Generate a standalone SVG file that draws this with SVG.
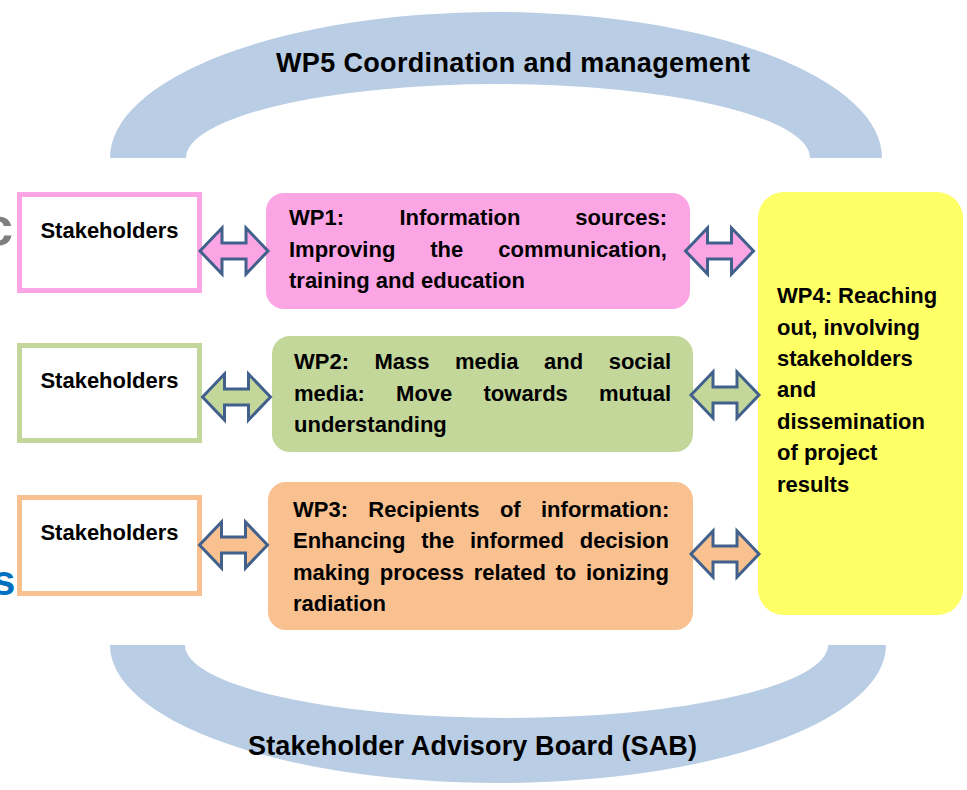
<svg xmlns="http://www.w3.org/2000/svg" width="967" height="790" viewBox="0 0 967 790">
  <style>
    .band { fill: #B9CDE5; }
    .title { font-family: "Liberation Sans", Arial, sans-serif; font-weight: bold; font-size: 27px; fill: #000; }
    .body { font-family: "Liberation Sans", Arial, sans-serif; font-weight: bold; font-size: 22px; fill: #000; }
    .stk-box { fill: #FFFFFF; stroke-width: 5; }
    .stk-label { font-family: "Liberation Sans", Arial, sans-serif; font-weight: bold; font-size: 22px; fill: #000; text-anchor: middle; }
    .arrow { stroke: #41608C; stroke-width: 3; stroke-linejoin: miter; }
    .pink { fill: #FCA5E5; }
    .green { fill: #C4D79B; }
    .peach { fill: #F9C090; }
  </style>
  <defs>
    <!-- double-headed block arrow, centred on the origin -->
    <path id="dbl-arrow" d="M-34,0 L-12,-23 L-12,-8 L12,-8 L12,-23 L34,0 L12,23 L12,8 L-12,8 L-12,23 Z"/>
  </defs>

  <rect width="967" height="790" fill="#FFFFFF"/>

  <!-- stray lettering at the left edge -->
  <text x="-17" y="245" font-family="Liberation Sans, Arial, sans-serif" font-weight="bold" font-size="54" fill="#7F7F7F">c</text>
  <text x="-8" y="595" font-family="Liberation Sans, Arial, sans-serif" font-weight="bold" font-size="42" fill="#0070C0">s</text>

  <!-- WP5 arch -->
  <g id="wp5">
    <path class="band" d="M110,158 A386,146 0 0 1 882,158 L810,158 A312,74 0 0 0 186,158 Z"/>
    <text class="title" x="276" y="72" textLength="474" lengthAdjust="spacing">WP5  Coordination and management</text>
  </g>

  <!-- Stakeholder Advisory Board arch -->
  <g id="sab">
    <path class="band" d="M110,645 A388,138 0 0 0 886,645 L828,645 A321.5,73 0 0 1 185,645 Z"/>
    <text class="title" x="248" y="755" textLength="449" lengthAdjust="spacing">Stakeholder Advisory Board (SAB)</text>
  </g>

  <!-- stakeholder boxes -->
  <g id="stakeholders-1">
    <rect class="stk-box" x="19.5" y="194.5" width="180" height="96" stroke="#FCA5E5"/>
    <text class="stk-label" x="109.5" y="238">Stakeholders</text>
  </g>
  <g id="stakeholders-2">
    <rect class="stk-box" x="19.5" y="345.5" width="180" height="95" stroke="#C4D79B"/>
    <text class="stk-label" x="109.5" y="388">Stakeholders</text>
  </g>
  <g id="stakeholders-3">
    <rect class="stk-box" x="19.5" y="497.5" width="180" height="96" stroke="#F9C090"/>
    <text class="stk-label" x="109.5" y="540">Stakeholders</text>
  </g>

  <!-- WP1 -->
  <g id="wp1">
    <rect class="pink" x="266" y="193" width="424" height="116" rx="18"/>
    <text class="body" y="225"><tspan x="289">WP1:</tspan><tspan x="399.4">Information</tspan><tspan x="575.3">sources:</tspan></text>
    <text class="body" y="257"><tspan x="289">Improving</tspan><tspan x="430.3">the</tspan><tspan x="498.3">communication,</tspan></text>
    <text class="body" x="289" y="288">training and education</text>
  </g>

  <!-- WP2 -->
  <g id="wp2">
    <rect class="green" x="272" y="336" width="421" height="116" rx="18"/>
    <text class="body" y="369"><tspan x="294">WP2:</tspan><tspan x="374.5">Mass</tspan><tspan x="455">media</tspan><tspan x="544.1">and</tspan><tspan x="608.7">social</tspan></text>
    <text class="body" y="401"><tspan x="294">media:</tspan><tspan x="396.1">Move</tspan><tspan x="483.5">towards</tspan><tspan x="599">mutual</tspan></text>
    <text class="body" x="294" y="432">understanding</text>
  </g>

  <!-- WP3 -->
  <g id="wp3">
    <rect class="peach" x="268" y="482" width="425" height="148" rx="18"/>
    <text class="body" y="517"><tspan x="293">WP3:</tspan><tspan x="368.3">Recipients</tspan><tspan x="499.9">of</tspan><tspan x="541">information:</tspan></text>
    <text class="body" y="548"><tspan x="293">Enhancing</tspan><tspan x="421.2">the</tspan><tspan x="469.9">informed</tspan><tspan x="579.7">decision</tspan></text>
    <text class="body" y="580"><tspan x="293">making</tspan><tspan x="379.7">process</tspan><tspan x="473.7">related</tspan><tspan x="555.5">to</tspan><tspan x="585.9">ionizing</tspan></text>
    <text class="body" x="293" y="611">radiation</text>
  </g>

  <!-- WP4 -->
  <g id="wp4">
    <rect x="758" y="192" width="205" height="423" rx="26" fill="#FFFF66"/>
    <text class="body" x="777" y="303">WP4: Reaching</text>
    <text class="body" x="777" y="335">out, involving</text>
    <text class="body" x="777" y="366">stakeholders</text>
    <text class="body" x="777" y="397">and</text>
    <text class="body" x="777" y="429">dissemination</text>
    <text class="body" x="777" y="460">of project</text>
    <text class="body" x="777" y="492">results</text>
  </g>

  <!-- connectors -->
  <g id="connectors">
    <use href="#dbl-arrow" class="arrow pink" transform="translate(234,251)"/>
    <use href="#dbl-arrow" class="arrow pink" transform="translate(719.5,251)"/>
    <use href="#dbl-arrow" class="arrow green" transform="translate(236.5,397)"/>
    <use href="#dbl-arrow" class="arrow green" transform="translate(725,395)"/>
    <use href="#dbl-arrow" class="arrow peach" transform="translate(233.5,545)"/>
    <use href="#dbl-arrow" class="arrow peach" transform="translate(725,554)"/>
  </g>
</svg>
